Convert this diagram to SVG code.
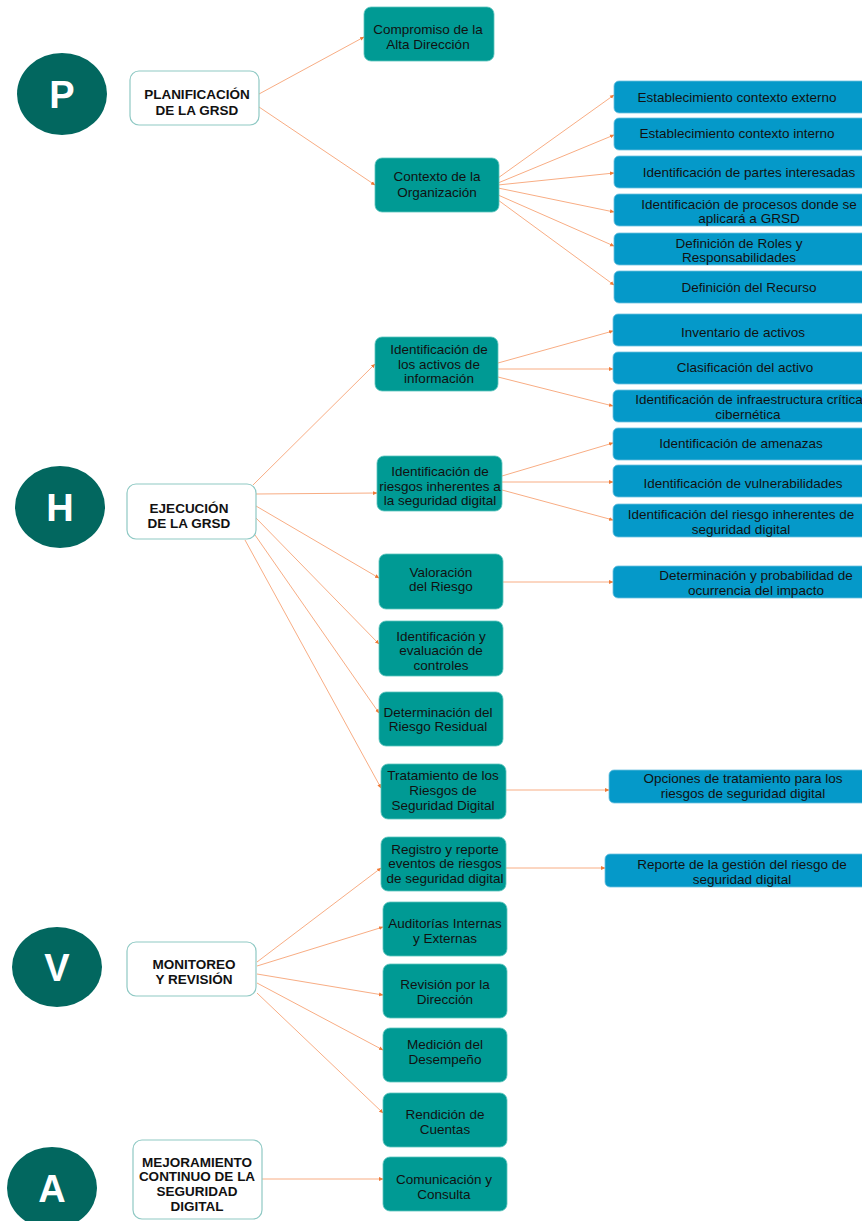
<svg xmlns="http://www.w3.org/2000/svg" width="862" height="1221" viewBox="0 0 862 1221">
<style>
.circ{fill:#02675f}
.circ-t{fill:#ffffff;font-family:"Liberation Sans",Arial,sans-serif;font-weight:bold;font-size:38px;text-anchor:middle}
.wbox{fill:#ffffff;stroke:#8fc9c4;stroke-width:1.2}
.wt{fill:#111111;font-family:"Liberation Sans",Arial,sans-serif;font-weight:bold;font-size:13.5px;text-anchor:middle}
.tbox{fill:#009a94;stroke:#5cc4bd;stroke-width:0.8}
.bbox{fill:#0599c9;stroke:#6cc0e0;stroke-width:0.8}
.t{fill:#111111;font-family:"Liberation Sans",Arial,sans-serif;font-size:13.5px;text-anchor:middle}
.c{stroke:#f8ad84;stroke-width:1;fill:none;marker-end:url(#ah)}
</style>
<defs>
<marker id="ah" markerUnits="userSpaceOnUse" markerWidth="5" markerHeight="5" refX="4" refY="2.5" orient="auto">
<path d="M0,0.6 L4.5,2.5 L0,4.4 Z" fill="#f07a36"/>
</marker>
</defs>
<rect width="862" height="1221" fill="#ffffff"/>

<g id="connectors">
<line class="c" x1="259" y1="94" x2="364" y2="37"/>
<line class="c" x1="259" y1="107" x2="375" y2="185"/>
<line class="c" x1="498" y1="178" x2="614" y2="95"/>
<line class="c" x1="498" y1="183" x2="614" y2="135"/>
<line class="c" x1="498" y1="185" x2="614" y2="173"/>
<line class="c" x1="498" y1="188" x2="614" y2="212"/>
<line class="c" x1="498" y1="195" x2="614" y2="246"/>
<line class="c" x1="498" y1="200" x2="614" y2="285"/>
<line class="c" x1="498" y1="363" x2="613" y2="331"/>
<line class="c" x1="498" y1="369" x2="613" y2="369"/>
<line class="c" x1="498" y1="377" x2="613" y2="406"/>
<line class="c" x1="502" y1="476" x2="613" y2="443"/>
<line class="c" x1="502" y1="482" x2="613" y2="482"/>
<line class="c" x1="502" y1="490" x2="613" y2="520"/>
<line class="c" x1="503" y1="582" x2="613" y2="582"/>
<line class="c" x1="506" y1="790" x2="609" y2="790"/>
<line class="c" x1="506" y1="868" x2="605" y2="868"/>
<line class="c" x1="253" y1="485" x2="375" y2="364"/>
<line class="c" x1="256" y1="494" x2="377" y2="493"/>
<line class="c" x1="256" y1="506" x2="379" y2="578"/>
<line class="c" x1="256" y1="518" x2="379" y2="644"/>
<line class="c" x1="255" y1="535" x2="379" y2="713"/>
<line class="c" x1="245" y1="540" x2="381" y2="788"/>
<line class="c" x1="257" y1="962" x2="381" y2="868"/>
<line class="c" x1="257" y1="966" x2="383" y2="927"/>
<line class="c" x1="257" y1="974" x2="383" y2="995"/>
<line class="c" x1="257" y1="983" x2="383" y2="1050"/>
<line class="c" x1="257" y1="993" x2="383" y2="1113"/>
<line class="c" x1="262" y1="1179" x2="383" y2="1179"/>
</g>

<g id="circle-P"><ellipse class="circ" cx="62" cy="94" rx="45" ry="41"/><text class="circ-t" x="62" y="108">P</text></g>
<g id="circle-H"><ellipse class="circ" cx="60" cy="507" rx="45" ry="41"/><text class="circ-t" x="60" y="521">H</text></g>
<g id="circle-V"><ellipse class="circ" cx="57" cy="967" rx="45" ry="40"/><text class="circ-t" x="57" y="981">V</text></g>
<g id="circle-A"><ellipse class="circ" cx="52" cy="1188" rx="45" ry="41"/><text class="circ-t" x="52" y="1202">A</text></g>

<g id="planificacion"><rect class="wbox" x="130" y="71" width="129" height="54" rx="9"/><text class="wt" x="197" y="98.5">PLANIFICACIÓN</text><text class="wt" x="197" y="114.5">DE LA GRSD</text></g>
<g id="ejecucion"><rect class="wbox" x="127" y="484" width="129" height="55" rx="9"/><text class="wt" x="189" y="512.5">EJECUCIÓN</text><text class="wt" x="189" y="527.5">DE LA GRSD</text></g>
<g id="monitoreo"><rect class="wbox" x="127" y="942" width="129" height="54" rx="9"/><text class="wt" x="194" y="968.5">MONITOREO</text><text class="wt" x="194" y="983.5">Y REVISIÓN</text></g>
<g id="mejoramiento"><rect class="wbox" x="133" y="1140" width="129" height="79" rx="9"/><text class="wt" x="197" y="1166.5">MEJORAMIENTO</text><text class="wt" x="197" y="1180.5">CONTINUO DE LA</text><text class="wt" x="197" y="1195.5">SEGURIDAD</text><text class="wt" x="197" y="1210.5">DIGITAL</text></g>

<g id="compromiso"><rect class="tbox" x="364" y="7" width="130" height="54" rx="7"/><text class="t" x="428" y="34">Compromiso de la</text><text class="t" x="428" y="49">Alta Dirección</text></g>
<g id="contexto"><rect class="tbox" x="375" y="158" width="124" height="54" rx="7"/><text class="t" x="437" y="181">Contexto de la</text><text class="t" x="437" y="197">Organización</text></g>
<g id="activos"><rect class="tbox" x="375" y="337" width="123" height="54" rx="7"/><text class="t" x="439" y="354">Identificación de</text><text class="t" x="439" y="369">los activos de</text><text class="t" x="439" y="383">información</text></g>
<g id="riesgos"><rect class="tbox" x="377" y="456" width="125" height="55" rx="7"/><text class="t" x="440" y="476">Identificación de</text><text class="t" x="440" y="491">riesgos inherentes a</text><text class="t" x="440" y="505">la seguridad digital</text></g>
<g id="valoracion"><rect class="tbox" x="379" y="554" width="124" height="55" rx="7"/><text class="t" x="441" y="577">Valoración</text><text class="t" x="441" y="591">del Riesgo</text></g>
<g id="controles"><rect class="tbox" x="379" y="621" width="124" height="55" rx="7"/><text class="t" x="441" y="641">Identificación y</text><text class="t" x="441" y="655">evaluación de</text><text class="t" x="441" y="670">controles</text></g>
<g id="residual"><rect class="tbox" x="379" y="692" width="124" height="54" rx="7"/><text class="t" x="438" y="717">Determinación del</text><text class="t" x="438" y="731">Riesgo Residual</text></g>
<g id="tratamiento"><rect class="tbox" x="381" y="764" width="125" height="55" rx="7"/><text class="t" x="443" y="780">Tratamiento de los</text><text class="t" x="443" y="795">Riesgos de</text><text class="t" x="443" y="810">Seguridad Digital</text></g>
<g id="registro"><rect class="tbox" x="381" y="837" width="125" height="54" rx="7"/><text class="t" x="445" y="854">Registro y reporte</text><text class="t" x="445" y="868">eventos de riesgos</text><text class="t" x="445" y="883">de seguridad digital</text></g>
<g id="auditorias"><rect class="tbox" x="383" y="902" width="124" height="54" rx="7"/><text class="t" x="445" y="928">Auditorías Internas</text><text class="t" x="445" y="943">y Externas</text></g>
<g id="revision"><rect class="tbox" x="383" y="964" width="124" height="54" rx="7"/><text class="t" x="445" y="989">Revisión por la</text><text class="t" x="445" y="1004">Dirección</text></g>
<g id="medicion"><rect class="tbox" x="383" y="1028" width="124" height="54" rx="7"/><text class="t" x="445" y="1049">Medición del</text><text class="t" x="445" y="1064">Desempeño</text></g>
<g id="rendicion"><rect class="tbox" x="383" y="1093" width="124" height="54" rx="7"/><text class="t" x="445" y="1119">Rendición de</text><text class="t" x="445" y="1134">Cuentas</text></g>
<g id="comunicacion"><rect class="tbox" x="383" y="1157" width="124" height="54" rx="7"/><text class="t" x="444" y="1184">Comunicación y</text><text class="t" x="444" y="1199">Consulta</text></g>

<g id="ctx-externo"><rect class="bbox" x="614" y="81" width="270" height="32" rx="5"/><text class="t" x="737" y="101.5">Establecimiento contexto externo</text></g>
<g id="ctx-interno"><rect class="bbox" x="614" y="118" width="270" height="32" rx="5"/><text class="t" x="737" y="137.5">Establecimiento contexto interno</text></g>
<g id="partes"><rect class="bbox" x="614" y="156" width="270" height="32" rx="5"/><text class="t" x="749" y="176.5">Identificación de partes interesadas</text></g>
<g id="procesos"><rect class="bbox" x="614" y="194" width="270" height="32" rx="5"/><text class="t" x="749" y="208.5">Identificación de procesos donde se</text><text class="t" x="749" y="222.5">aplicará a GRSD</text></g>
<g id="roles"><rect class="bbox" x="614" y="233" width="270" height="32" rx="5"/><text class="t" x="739" y="247.5">Definición de Roles y</text><text class="t" x="739" y="261.5">Responsabilidades</text></g>
<g id="recurso"><rect class="bbox" x="614" y="271" width="270" height="32" rx="5"/><text class="t" x="749" y="291.5">Definición del Recurso</text></g>
<g id="inventario"><rect class="bbox" x="613" y="314" width="270" height="32" rx="5"/><text class="t" x="743" y="336.5">Inventario de activos</text></g>
<g id="clasificacion"><rect class="bbox" x="613" y="352" width="270" height="32" rx="5"/><text class="t" x="745" y="371.5">Clasificación del activo</text></g>
<g id="infraestructura"><rect class="bbox" x="613" y="390" width="270" height="32" rx="5"/><text class="t" x="749" y="403.5">Identificación de infraestructura crítica</text><text class="t" x="748" y="418.5">cibernética</text></g>
<g id="amenazas"><rect class="bbox" x="613" y="428" width="270" height="32" rx="5"/><text class="t" x="741" y="447.5">Identificación de amenazas</text></g>
<g id="vulnerabilidades"><rect class="bbox" x="613" y="465" width="270" height="32" rx="5"/><text class="t" x="743" y="487.5">Identificación de vulnerabilidades</text></g>
<g id="riesgo-inherente"><rect class="bbox" x="613" y="504" width="270" height="33" rx="5"/><text class="t" x="741" y="518.5">Identificación del riesgo inherentes de</text><text class="t" x="741" y="533.5">seguridad digital</text></g>
<g id="probabilidad"><rect class="bbox" x="613" y="566" width="270" height="32" rx="5"/><text class="t" x="756" y="579.5">Determinación y probabilidad de</text><text class="t" x="756" y="594.5">ocurrencia del impacto</text></g>
<g id="opciones"><rect class="bbox" x="609" y="770" width="275" height="33" rx="5"/><text class="t" x="743" y="782.5">Opciones de tratamiento para los</text><text class="t" x="743" y="797.5">riesgos de seguridad digital</text></g>
<g id="reporte"><rect class="bbox" x="605" y="854" width="280" height="33" rx="5"/><text class="t" x="742" y="868.5">Reporte de la gestión del riesgo de</text><text class="t" x="742" y="883.5">seguridad digital</text></g>
</svg>
